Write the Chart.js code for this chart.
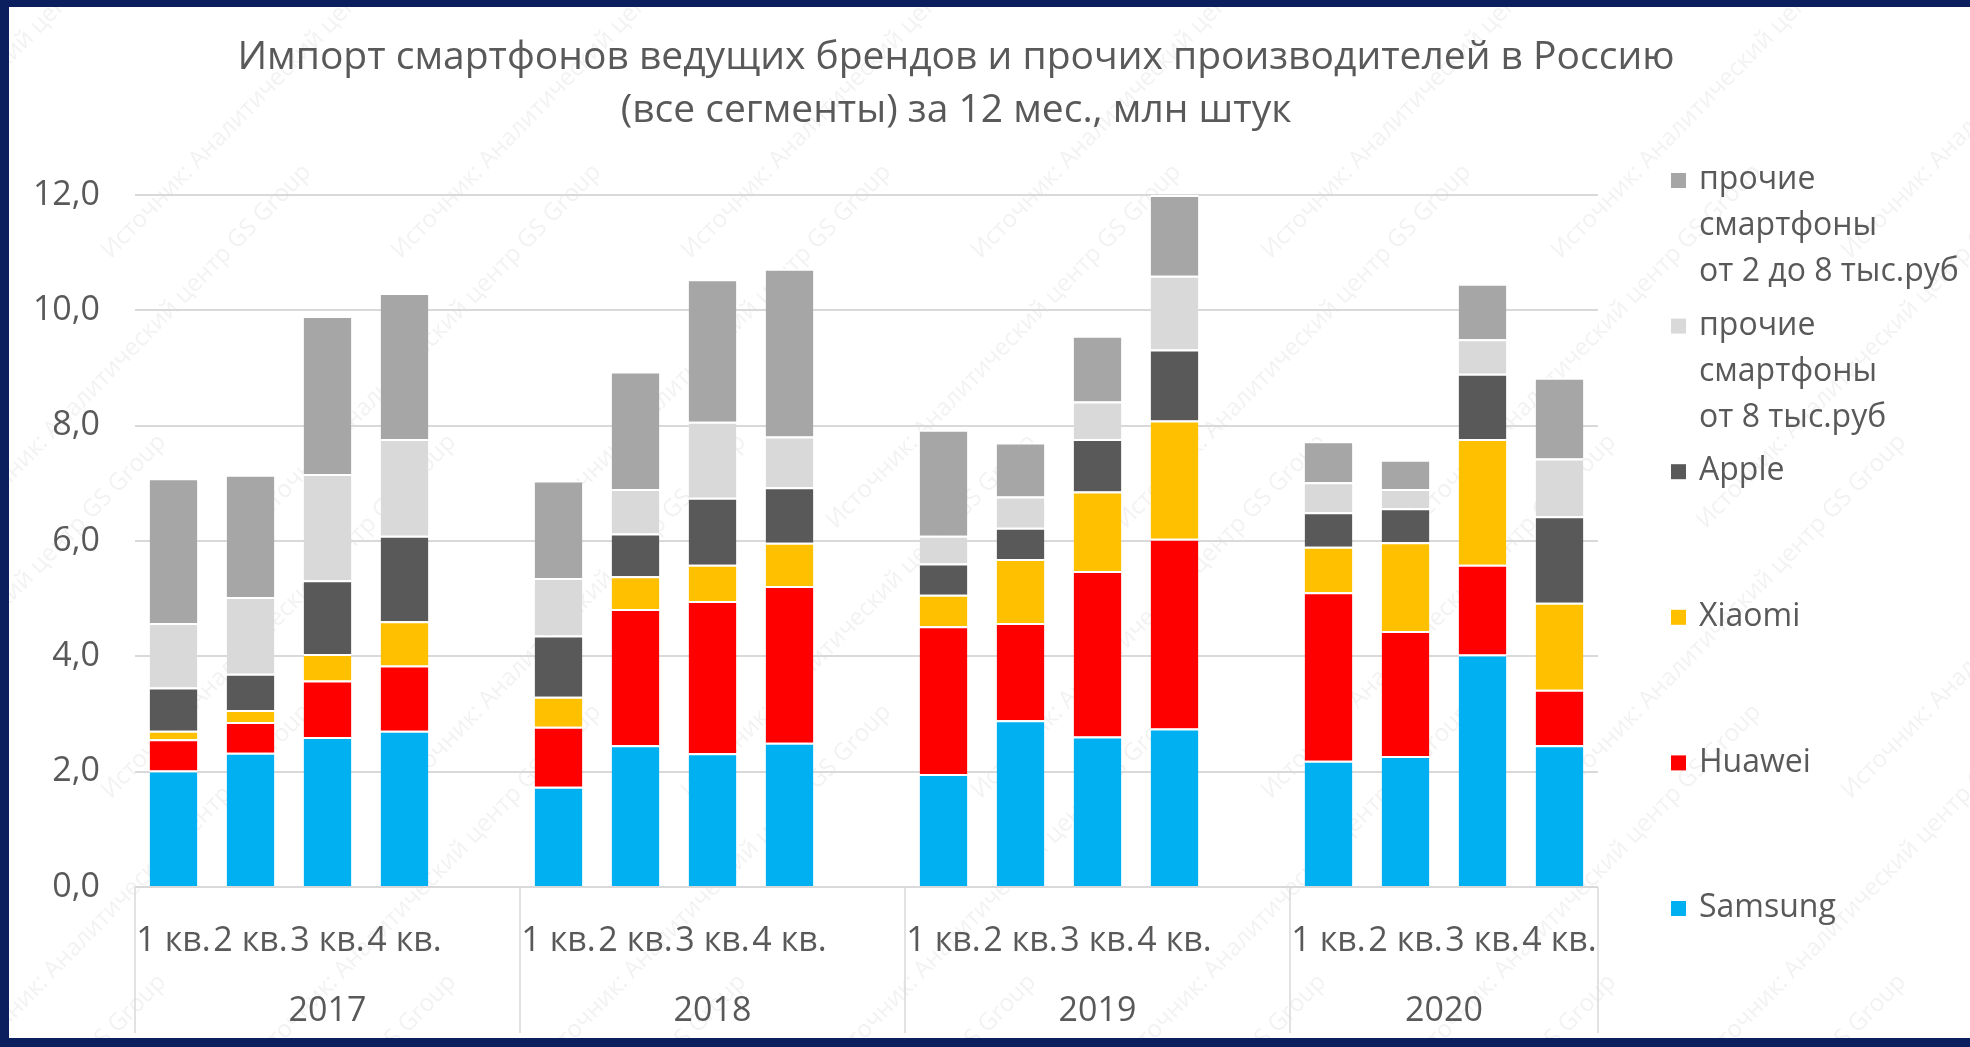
<!DOCTYPE html>
<html lang="ru">
<head>
<meta charset="utf-8">
<title>Импорт смартфонов в Россию</title>
<script src="https://cdn.jsdelivr.net/npm/chart.js@4.4.1/dist/chart.umd.min.js"></script>
<style>
  html, body { margin: 0; padding: 0; background: #0b1f5e; }
  body { width: 1970px; height: 1047px; position: relative; overflow: hidden; }
  #wrap { position: absolute; left: 9px; top: 7px; width: 1961px; height: 1031px; background: #fff; }
</style>
</head>
<body>
<div id="wrap"><canvas id="chart" width="1961" height="1031"></canvas></div>
<script>
const years = ['2017', '2018', '2019', '2020'];
const quarters = ['1 кв.', '2 кв.', '3 кв.', '4 кв.'];

// млн штук, по кварталам 2017-2020
const samsung = [2.02, 2.33, 2.60, 2.71, 1.74, 2.46, 2.32, 2.50, 1.96, 2.89, 2.61, 2.75, 2.19, 2.27, 4.03, 2.46];
const huawei = [0.54, 0.53, 0.98, 1.13, 1.04, 2.36, 2.64, 2.72, 2.56, 1.69, 2.87, 3.29, 2.92, 2.17, 1.56, 0.96];
const xiaomi = [0.15, 0.21, 0.46, 0.77, 0.52, 0.57, 0.63, 0.75, 0.55, 1.11, 1.38, 2.05, 0.79, 1.54, 2.18, 1.51];
const apple = [0.75, 0.63, 1.28, 1.48, 1.06, 0.74, 1.16, 0.96, 0.54, 0.54, 0.91, 1.23, 0.60, 0.59, 1.13, 1.50];
const other8 = [1.12, 1.33, 1.84, 1.68, 1.00, 0.77, 1.32, 0.88, 0.48, 0.54, 0.65, 1.28, 0.52, 0.33, 0.60, 1.00];
const other2to8 = [2.51, 2.12, 2.74, 2.53, 1.69, 2.04, 2.47, 2.91, 1.84, 0.94, 1.14, 1.40, 0.71, 0.51, 0.96, 1.40];

const yMin = 0;
const yMax = 12;
const yStep = 2;

const titleLines = [
  'Импорт смартфонов ведущих брендов и прочих производителей в Россию',
  '(все сегменты) за 12 мес., млн штук',
];
const watermarkText = 'Источник: Аналитический центр GS Group';

const textColor = '#595959';
const fontFamily = '"Open Sans", sans-serif';

// an empty slot between years, like the excel chart
const labels = [];
const groups = [];
years.forEach((y, i) => {
  const first = labels.length;
  quarters.forEach((q) => labels.push(q));
  if (i < years.length - 1) labels.push('');
  groups.push({ year: y, first: first, last: labels.length - 1 });
});

function spread(values) {
  const out = [];
  years.forEach((y, i) => {
    quarters.forEach((q, j) => out.push(values[i * quarters.length + j]));
    if (i < years.length - 1) out.push(null);
  });
  return out;
}

function series(label, values, color) {
  return {
    label: label,
    data: spread(values),
    backgroundColor: color,
    borderColor: '#ffffff',
    borderWidth: { top: 2, left: 0, right: 0, bottom: 0 },
    borderSkipped: false,
    barPercentage: 0.62,
    categoryPercentage: 1,
  };
}

const watermark = {
  id: 'watermark',
  beforeDraw(chart) {
    const ctx = chart.ctx;
    ctx.save();
    ctx.fillStyle = 'rgba(110, 110, 110, 0.09)';
    ctx.font = '24px ' + fontFamily;
    ctx.textBaseline = 'middle';
    for (let row = 0; row < 5; row++) {
      for (let col = 0; col < 8; col++) {
        const cx = col * 290 + (row % 2) * 145 - 40;
        const cy = row * 270 + 90;
        ctx.save();
        ctx.translate(cx, cy);
        ctx.rotate(-0.8);
        ctx.fillText(watermarkText, -220, 0);
        ctx.restore();
      }
    }
    ctx.restore();
  },
};

const titlePlugin = {
  id: 'titleLines',
  afterDraw(chart) {
    const ctx = chart.ctx;
    ctx.save();
    ctx.fillStyle = textColor;
    ctx.font = '39px ' + fontFamily;
    ctx.textAlign = 'center';
    ctx.textBaseline = 'alphabetic';
    ctx.fillText(titleLines[0], 947, 62);
    ctx.fillText(titleLines[1], 947, 115);
    ctx.restore();
  },
};

const yearAxis = {
  id: 'yearAxis',
  afterDraw(chart) {
    const { ctx, chartArea } = chart;
    const x = chart.scales.x;
    const half = (x.getPixelForTick(1) - x.getPixelForTick(0)) / 2;
    ctx.save();
    ctx.strokeStyle = '#d9d9d9';
    ctx.lineWidth = 1.5;
    ctx.fillStyle = textColor;
    ctx.font = '34px ' + fontFamily;
    ctx.textAlign = 'center';
    ctx.textBaseline = 'middle';
    const bottom = chart.height - 5;
    groups.forEach((g, i) => {
      const left = x.getPixelForTick(g.first) - half;
      const right = x.getPixelForTick(g.last) + half;
      ctx.beginPath();
      ctx.moveTo(left, chartArea.bottom);
      ctx.lineTo(left, bottom);
      if (i === groups.length - 1) {
        ctx.moveTo(right, chartArea.bottom);
        ctx.lineTo(right, bottom);
      }
      ctx.stroke();
      ctx.fillText(g.year, (left + right) / 2, 1004);
    });
    ctx.restore();
  },
};

const sideLegend = {
  id: 'sideLegend',
  afterDraw(chart) {
    const ctx = chart.ctx;
    const sets = chart.data.datasets.slice().reverse();
    ctx.save();
    ctx.font = '32px ' + fontFamily;
    ctx.textBaseline = 'middle';
    ctx.textAlign = 'left';
    sets.forEach((ds, i) => {
      const y = 173 + i * 145.6;
      ctx.fillStyle = ds.backgroundColor;
      ctx.fillRect(1662, y - 7, 15, 15);
      ctx.fillStyle = textColor;
      ds.label.split('\n').forEach((line, k) => {
        ctx.fillText(line, 1690, y + k * 46);
      });
    });
    ctx.restore();
  },
};

new Chart(document.getElementById('chart'), {
  type: 'bar',
  data: {
    labels: labels,
    datasets: [
      series('Samsung', samsung, '#00b0f0'),
      series('Huawei', huawei, '#ff0000'),
      series('Xiaomi', xiaomi, '#ffc000'),
      series('Apple', apple, '#595959'),
      series('прочие\nсмартфоны\nот 8 тыс.руб', other8, '#d9d9d9'),
      series('прочие\nсмартфоны\nот 2 до 8 тыс.руб', other2to8, '#a6a6a6'),
    ],
  },
  options: {
    responsive: false,
    animation: false,
    devicePixelRatio: 1,
    layout: { padding: { top: 188, right: 372, left: 0, bottom: 0 } },
    plugins: {
      legend: { display: false },
      title: { display: false },
      tooltip: { enabled: false },
    },
    scales: {
      x: {
        stacked: true,
        grid: { display: false },
        border: { display: false },
        ticks: {
          color: textColor,
          font: { family: fontFamily, size: 34 },
          autoSkip: false,
          maxRotation: 0,
          minRotation: 0,
          padding: 26,
        },
        afterFit(scale) { scale.height = 151; },
      },
      y: {
        stacked: true,
        min: yMin,
        max: yMax,
        grid: { color: '#d9d9d9', lineWidth: 2, drawTicks: false },
        border: { display: false },
        ticks: {
          stepSize: yStep,
          color: textColor,
          font: { family: fontFamily, size: 34 },
          padding: 35,
          callback: (v) => v.toFixed(1).replace('.', ','),
        },
        afterFit(scale) { scale.width = 126; },
      },
    },
  },
  plugins: [watermark, titlePlugin, yearAxis, sideLegend],
});
</script>
</body>
</html>
